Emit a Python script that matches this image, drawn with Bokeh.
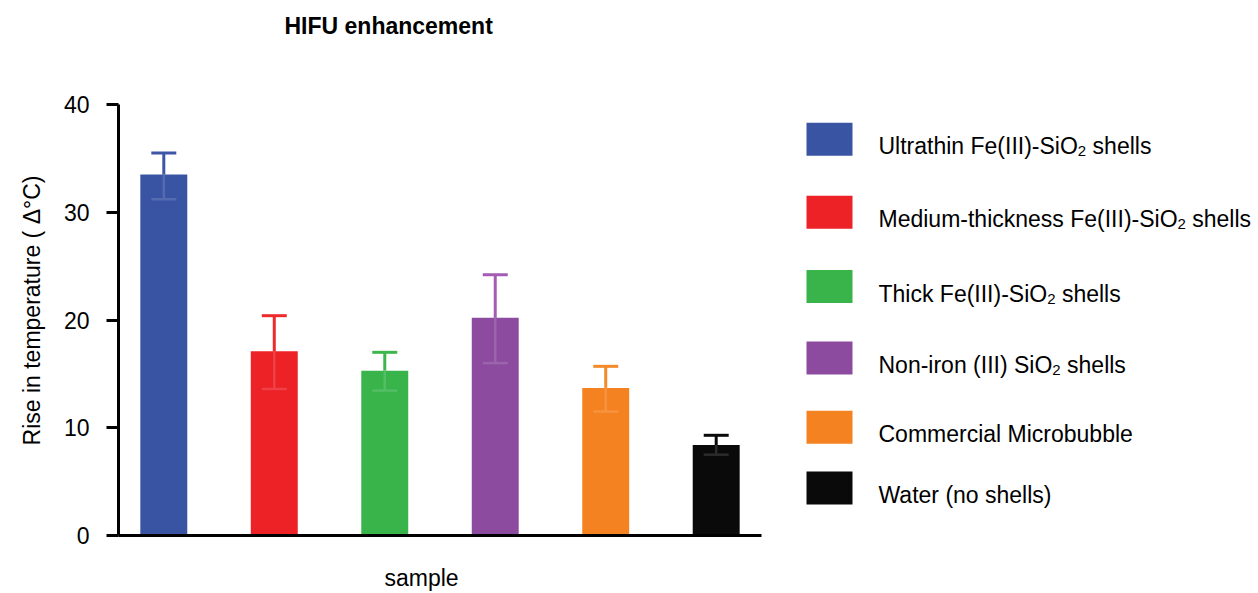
from bokeh.plotting import figure
from bokeh.models import Range1d, FixedTicker, Label, ColumnDataSource, LinearAxis
from bokeh.core.properties import value
from bokeh.embed import file_html
from bokeh.resources import INLINE
import numpy as np

FONT = "Liberation Sans"

# ---------------- data ----------------
categories = [
    "Ultrathin Fe(III)-SiO2 shells",
    "Medium-thickness Fe(III)-SiO2 shells",
    "Thick Fe(III)-SiO2 shells",
    "Non-iron (III) SiO2 shells",
    "Commercial Microbubble",
    "Water (no shells)",
]
means = [33.5, 17.1, 15.3, 20.2, 13.7, 8.4]
err_upper = [35.5, 20.4, 17.0, 24.2, 15.7, 9.3]
err_lower = [31.2, 13.6, 13.45, 16.0, 11.5, 7.5]
bar_colors = ["#3A54A4", "#EC2227", "#38B44A", "#8C4B9E", "#F58220", "#0A0A0A"]
err_colors = ["#3F55A8", "#EE2A2A", "#3DB64E", "#A45BB3", "#F58A2A", "#0A0A0A"]
y_ticks = [0, 10, 20, 30, 40]

title_text = "HIFU enhancement"
x_label = "sample"
y_label = "Rise in temperature ( \u0394\u00b0C)"

# ---------------- layout constants (pixels) ----------------
W, H = 1258, 593
AX_LEFT = 118               # y axis position
AX_RIGHT = 761              # end of x axis line
Y0_PX, Y40_PX = 535, 104    # pixel rows of y=0 and y=40
X_LO, X_HI = -0.41, 5.41    # x extent of the axis
ppx = (AX_RIGHT - AX_LEFT) / (X_HI - X_LO)
ppy = (Y0_PX - Y40_PX) / 40.0


def tint(hexcol, f=0.14):
    h = hexcol.lstrip("#")
    r, g, b = (int(h[i:i + 2], 16) for i in (0, 2, 4))
    r, g, b = (int(c + (255 - c) * f) for c in (r, g, b))
    return "#%02x%02x%02x" % (r, g, b)


x = np.arange(len(categories), dtype=float)
cap = 0.113
src = ColumnDataSource(dict(
    x=x, top=means, upper=err_upper, lower=err_lower,
    color=bar_colors, ecolor=err_colors,
    lcolor=[tint(c) for c in bar_colors],
    cx0=x - cap, cx1=x + cap,
))

p = figure(width=W, height=H,
           x_range=Range1d(X_LO - AX_LEFT / ppx, X_HI + (W - AX_RIGHT) / ppx),
           y_range=Range1d(-(H - Y0_PX) / ppy, 40 + Y40_PX / ppy),
           x_axis_location=None, y_axis_location=None,
           output_backend="svg", toolbar_location=None,
           min_border_left=0, min_border_right=0,
           min_border_top=0, min_border_bottom=0)
p.extra_x_ranges = {"px": Range1d(0, W)}
p.extra_y_ranges = {"py": Range1d(H, 0)}
p.outline_line_color = None
p.grid.visible = False
p.background_fill_color = "white"
p.border_fill_color = "white"

p.vbar(x="x", top="top", width=0.425, fill_color="color", line_color=None, source=src)
p.segment(x0="x", y0="top", x1="x", y1="upper", line_color="ecolor", line_width=3, source=src)
p.segment(x0="cx0", y0="upper", x1="cx1", y1="upper", line_color="ecolor", line_width=3, source=src)
p.segment(x0="x", y0="lower", x1="x", y1="top", line_color="lcolor", line_width=2.5, source=src)
p.segment(x0="cx0", y0="lower", x1="cx1", y1="lower", line_color="lcolor", line_width=2.5, source=src)

xa = LinearAxis(fixed_location=0, bounds=(X_LO, X_HI), ticker=FixedTicker(ticks=[]))
xa.major_tick_line_color = None
xa.minor_tick_line_color = None
xa.major_label_text_font_size = "0px"
xa.axis_line_width = 3
xa.axis_line_color = "black"
p.add_layout(xa, "below")

ya = LinearAxis(fixed_location=X_LO, bounds=(0, 40), ticker=FixedTicker(ticks=y_ticks))
ya.major_tick_out = 12
ya.major_tick_in = 0
ya.major_tick_line_width = 3
ya.major_tick_line_color = "black"
ya.minor_tick_line_color = None
ya.axis_line_width = 3
ya.axis_line_color = "black"
ya.major_label_text_font = FONT
ya.major_label_text_font_size = "23px"
ya.major_label_text_color = "black"
ya.major_label_standoff = 17
p.add_layout(ya, "left")

p.add_layout(Label(x=284, y=25.5, x_range_name="px", y_range_name="py",
                   text=title_text, text_font=FONT, text_font_size="23px",
                   text_font_style="bold", text_baseline="alphabetic",
                   text_align="left", text_color="black"))
p.add_layout(Label(x=421, y=577.5, x_range_name="px", y_range_name="py",
                   text=x_label, text_font=FONT, text_font_size="23px",
                   text_baseline="alphabetic", text_align="center", text_color="black"))
p.add_layout(Label(x=31, y=310, x_range_name="px", y_range_name="py", angle=np.pi / 2,
                   text=y_label, text_font=FONT, text_font_size="23px",
                   text_baseline="middle", text_align="center", text_color="black"))

# ---------------- legend (pixel coordinates) ----------------
ARIAL = {
    " ": 278, "(": 333, ")": 333, "-": 333, "2": 556,
    "C": 722, "F": 611, "I": 278, "M": 833, "N": 722, "O": 778, "S": 667,
    "T": 611, "U": 722, "W": 944,
    "a": 556, "b": 556, "c": 500, "d": 556, "e": 556, "h": 556, "i": 222,
    "k": 500, "l": 222, "m": 833, "n": 556, "o": 556, "r": 333, "s": 500,
    "t": 278, "u": 556,
}


def text_width(s, size):
    return sum(ARIAL.get(ch, 556) for ch in s) * size / 1000.0


row_centers = [138.8, 211.7, 286.0, 357.5, 426.7, 487.5]
sw_left, sw_right, sw_half = 806, 852, 16.5
tx, fs, sub_fs = 878, 23, 15

p.quad(left=[sw_left] * 6, right=[sw_right] * 6,
       top=[c - sw_half for c in row_centers], bottom=[c + sw_half for c in row_centers],
       fill_color=bar_colors, line_color=None, x_range_name="px", y_range_name="py")

main_x, main_y, main_t = [], [], []
sub_x, sub_y, sub_t = [], [], []
for name, cy in zip(categories, row_centers):
    base = cy + 7
    if "SiO2" in name:
        k = name.index("SiO2") + 3
        pre, post = name[:k], name[k + 1:]
        main_x.append(tx); main_y.append(base); main_t.append(pre)
        sx = tx + text_width(pre, fs)
        sub_x.append(sx); sub_y.append(base + 5); sub_t.append("2")
        lead = len(post) - len(post.lstrip(" "))
        px = sx + text_width("2", sub_fs) + text_width(" " * lead, fs)
        main_x.append(px); main_y.append(base); main_t.append(post.lstrip(" "))
    else:
        main_x.append(tx); main_y.append(base); main_t.append(name)

p.text(x=main_x, y=main_y, text=main_t, text_font=value(FONT),
       text_font_size=value("23px"), text_baseline=value("alphabetic"),
       text_align=value("left"), text_color="black",
       x_range_name="px", y_range_name="py")
p.text(x=sub_x, y=sub_y, text=sub_t, text_font=value(FONT),
       text_font_size=value("15px"), text_baseline=value("alphabetic"),
       text_align=value("left"), text_color="black",
       x_range_name="px", y_range_name="py")

open("out.html", "w").write(file_html(p, INLINE))
